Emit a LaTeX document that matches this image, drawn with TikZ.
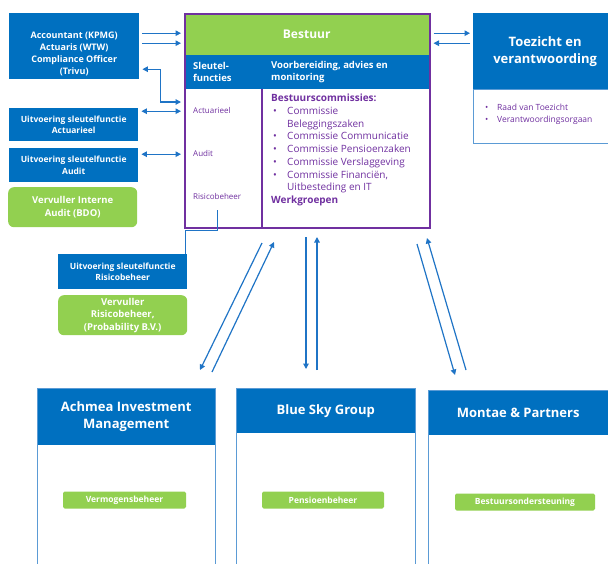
\documentclass[tikz,border=0pt]{standalone}
\usepackage{fontspec}
\setmainfont{Open Sans}
\usetikzlibrary{positioning,calc,arrows.meta}
\definecolor{headBlue}{HTML}{0070C0}
\definecolor{lineBlue}{HTML}{1F74C6}
\definecolor{edgeBlue}{HTML}{5B9BD5}
\definecolor{boardGreen}{HTML}{92D050}
\definecolor{boardPurple}{HTML}{7030A0}
\tikzstyle{chart} = [x=1pt, y=-1pt]
\tikzstyle{blueBox} = [fill=headBlue, text=white, font=\bfseries\fontsize{8.5}{11.5}\selectfont, align=center, anchor=north west, inner sep=0pt]
\tikzstyle{greenBox} = [fill=boardGreen, text=white, rounded corners=.2cm, font=\bfseries\fontsize{9.5}{12.5}\selectfont, align=center, anchor=north west, inner sep=0pt]
\tikzstyle{boxLabel} = [text=white, font=\bfseries\fontsize{9}{12}\selectfont, align=center, inner sep=0pt]
\tikzstyle{bandText} = [text=white, font=\bfseries\fontsize{9.5}{12.5}\selectfont, align=left, anchor=west, inner sep=0pt]
\tikzstyle{roleText} = [text=boardPurple, font=\fontsize{8}{10}\selectfont, anchor=west, inner sep=0pt]
\tikzstyle{listText} = [text=boardPurple, font=\fontsize{10}{12.7}\selectfont, align=left, anchor=north west, inner sep=0pt]
\tikzstyle{partnerHead} = [fill=headBlue, text=white, font=\bfseries\fontsize{13}{17}\selectfont, align=center, anchor=north west, inner sep=0pt]
\tikzstyle{partnerFrame} = [draw=edgeBlue, line width=1pt, anchor=north west, inner sep=0pt]
\tikzstyle{taskBox} = [fill=boardGreen, text=white, rounded corners=.06cm, font=\bfseries\fontsize{8.5}{10}\selectfont, minimum height=17, inner sep=0pt]
\tikzstyle{flow} = [draw=lineBlue, line width=1.2pt, -{Triangle[length=5.5pt,width=5.5pt]}]
\tikzstyle{flowGap} = [flow, shorten >=3pt, shorten <=3pt]
\tikzstyle{flowBoth} = [flowGap, {Triangle[length=5.5pt,width=5.5pt]}-{Triangle[length=5.5pt,width=5.5pt]}]
\tikzstyle{link} = [draw=lineBlue, line width=1.2pt]
\newcommand{\bulletItem}[1]{\makebox[#1][l]{\hspace{2pt}\textbullet}}
\newcommand{\partnerBox}[6]{
  \node [partnerHead, minimum width=#4, minimum height=#5] (#1Head) at (#2,#3) {#6};
  \node [partnerFrame, minimum width=#4, minimum height=200] (#1) at (#2,#3) {};
}

\begin{document}
\begin{tikzpicture}[chart]
\clip (0,0) rectangle (608,563);
\fill [white] (0,0) rectangle (608,563);

\node [blueBox, minimum width=130, minimum height=66] (extern) at (9,13) {};
\node [boxLabel] (externText) at ([yshift=-8pt]extern.center) {Accountant (KPMG)\\Actuaris (WTW)\\Compliance Officer\\(Trivu)};
\node [blueBox, minimum width=129, minimum height=33] (uitvActuarieel) at (9,108) {Uitvoering sleutelfunctie\\Actuarieel};
\node [blueBox, minimum width=129, minimum height=34] (uitvAudit) at (9,148) {Uitvoering sleutelfunctie\\Audit};
\node [greenBox, minimum width=129, minimum height=40] (interneAudit) at (8,187) {Vervuller Interne\\Audit (BDO)};
\node [blueBox, minimum width=129, minimum height=35] (uitvRisico) at (58,254) {Uitvoering sleutelfunctie\\Risicobeheer};
\node [greenBox, minimum width=129, minimum height=40] (vervullerRisico) at (58,295) {Vervuller\\Risicobeheer,\\(Probability B.V.)};

\node [partnerHead, fill=boardGreen, font=\bfseries\fontsize{12}{14}\selectfont, minimum width=245, minimum height=42] (bestuur) at (184,13) {Bestuur};
\node [blueBox, minimum width=245, minimum height=34] (band) at (184,55) {};
\node [bandText] (sleutel) at (193,72) {Sleutel-\\functies};
\node [bandText] (voorbereiding) at (271,72) {Voorbereiding, advies en\\monitoring};
\node [roleText] (actuarieel) at (193,110) {Actuarieel};
\node [roleText] (audit) at (193,153) {Audit};
\node [roleText] (risico) at (193,196) {Risicobeheer};
\node [listText] (commissies) at (271,94) {\textbf{Bestuurscommissies:}\\
  \bulletItem{16pt}Commissie\\
  \hspace*{16pt}Beleggingszaken\\
  \bulletItem{16pt}Commissie Communicatie\\
  \bulletItem{16pt}Commissie Pensioenzaken\\
  \bulletItem{16pt}Commissie Verslaggeving\\
  \bulletItem{16pt}Commissie Financiën,\\
  \hspace*{16pt}Uitbesteding en IT\\
  \textbf{Werkgroepen}};
\node [draw=boardPurple, line width=1.5pt, minimum width=245, minimum height=214, anchor=north west, inner sep=0pt] (board) at (184,13) {};
\draw [boardPurple, line width=1.5pt] (band.south -| 262,0) -- (board.south -| 262,0);

\node [partnerHead, minimum width=144, minimum height=76] (toezichtHead) at (473,13) {Toezicht en\\verantwoording};
\node [partnerFrame, minimum width=144, minimum height=54] (toezicht) at (473,89) {};
\node [listText, font=\fontsize{8.5}{12}\selectfont] (toezichtLeden) at (483,104) {\bulletItem{14pt}Raad van Toezicht\\\bulletItem{14pt}Verantwoordingsorgaan};

\partnerBox{achmea}{37}{388}{178}{57}{Achmea Investment\\Management}
\partnerBox{blueSky}{236}{388}{179}{45}{Blue Sky Group}
\partnerBox{montae}{428}{390}{180}{45}{Montae \& Partners}
\node [taskBox, minimum width=123] (vermogen) at (124.5,500) {Vermogensbeheer};
\node [taskBox, minimum width=122] (pensioen) at (323,500) {Pensioenbeheer};
\node [taskBox, minimum width=140] (ondersteuning) at (525,502) {Bestuursondersteuning};

\coordinate (ext1) at ([yshift=13pt]extern.east);
\coordinate (ext2) at ([yshift=3pt]extern.east);
\coordinate (ext3) at ([yshift=-23pt]extern.east);
\coordinate (act1) at ([yshift=13.5pt]uitvActuarieel.east);
\coordinate (aud1) at ([yshift=11pt]uitvAudit.east);
\coordinate (tz1) at ([yshift=18pt]toezichtHead.west);
\coordinate (tz2) at ([yshift=8pt]toezichtHead.west);
\draw [flowGap] (ext1) -- (ext1 -| board.west);
\draw [flowGap] (ext2) -- (ext2 -| board.west);
\draw [flowBoth] (ext3) -- ++(21,0) |- (board.west |- 0,102);
\draw [flowBoth] (act1) -- (act1 -| board.west);
\draw [flowBoth] (aud1) -- (aud1 -| board.west);
\draw [flowGap] (tz1 -| board.east) -- (tz1);
\draw [flowGap] (tz2) -- (tz2 -| board.east);
\draw [link, shorten <=11pt] (risico.south) -- ++(0,31) -| ([xshift=-2pt]uitvRisico.north east);

\coordinate (boardToAchmea) at (262,243);
\coordinate (achmeaIn) at (200,370);
\coordinate (achmeaOut) at (212,372);
\coordinate (achmeaToBoard) at (274,242);
\coordinate (boardToBlueSky) at (306,237);
\coordinate (blueSkyIn) at (306,369);
\coordinate (blueSkyOut) at (317,370);
\coordinate (blueSkyToBoard) at (317,237);
\coordinate (boardToMontae) at (417,244);
\coordinate (montaeIn) at (455,375);
\coordinate (montaeOut) at (466,370);
\coordinate (montaeToBoard) at (427,238);
\draw [flow] (boardToAchmea) -- (achmeaIn);
\draw [flow] (achmeaOut) -- (achmeaToBoard);
\draw [flow] (boardToBlueSky) -- (blueSkyIn);
\draw [flow] (blueSkyOut) -- (blueSkyToBoard);
\draw [flow] (boardToMontae) -- (montaeIn);
\draw [flow] (montaeOut) -- (montaeToBoard);
\end{tikzpicture}
\end{document}
